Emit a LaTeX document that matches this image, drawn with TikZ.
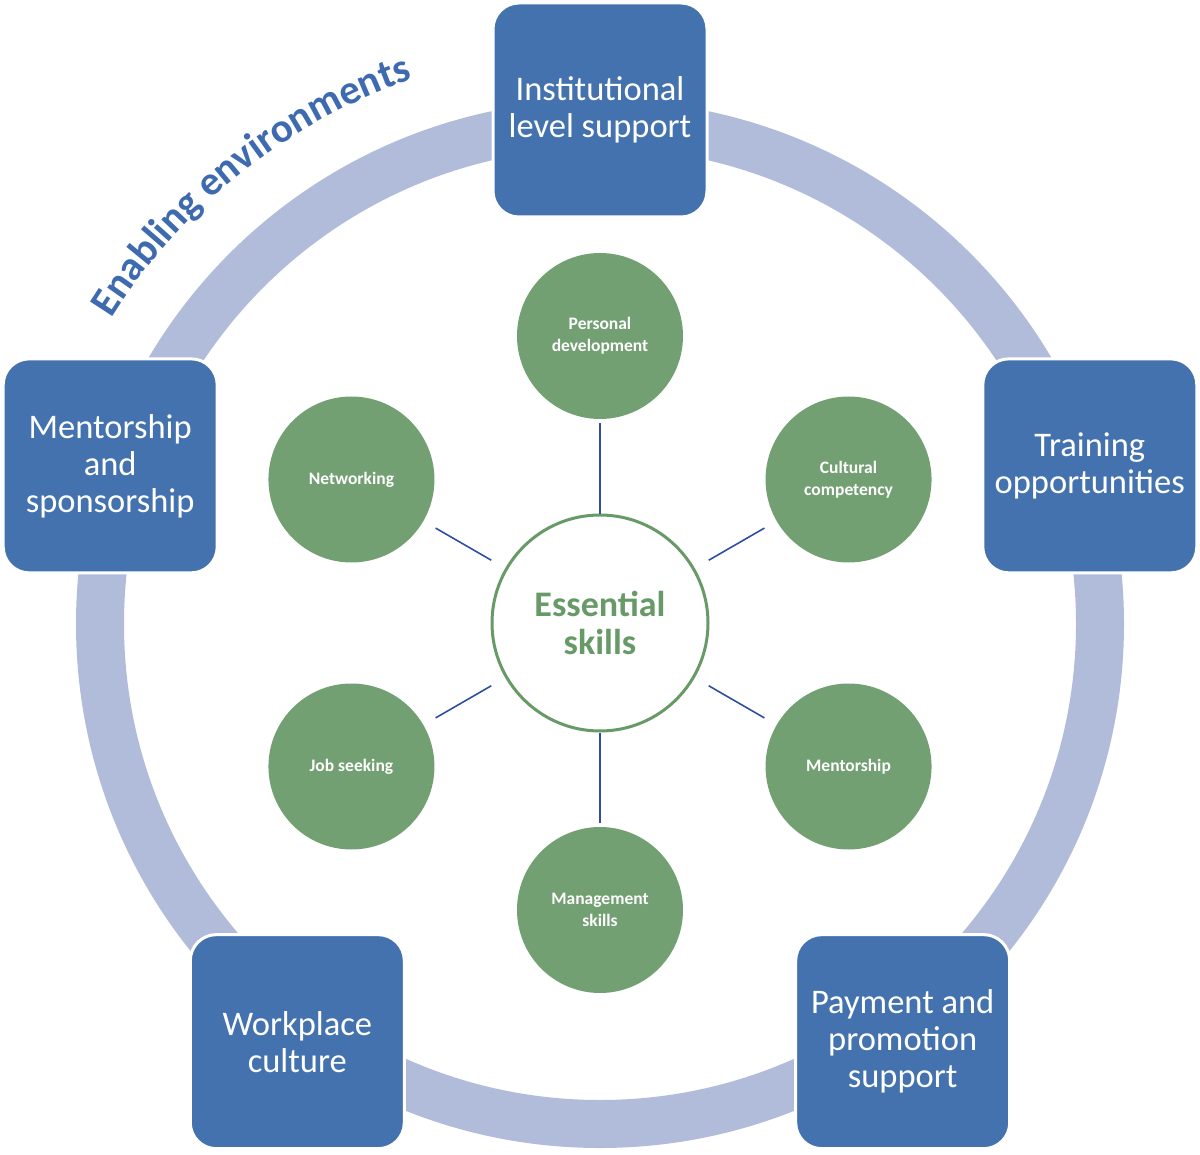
\documentclass[tikz,border=0pt]{standalone}
\usepackage{fontspec}
\setmainfont{Carlito}
\usetikzlibrary{decorations.text,calc}
\definecolor{boxblue}{RGB}{68,114,174}
\definecolor{ringblue}{RGB}{176,188,218}
\definecolor{skillgreen}{RGB}{115,160,115}
\definecolor{essgreen}{RGB}{104,154,104}
\definecolor{linkblue}{RGB}{46,78,158}
\definecolor{envblue}{RGB}{62,106,176}
\begin{document}
\begin{tikzpicture}[x=1pt,y=1pt,
  bigbox/.style={draw=white, line width=3pt, fill=boxblue, rounded corners=26pt,
    minimum width=214pt, minimum height=214pt, text=white, align=center,
    font=\fontsize{34.5}{37}\selectfont, inner sep=0pt},
  skill/.style={circle, fill=skillgreen, minimum size=166pt, inner sep=0pt,
    text=white, align=center, font=\fontsize{17.5}{22}\selectfont\bfseries},
  link/.style={draw=linkblue, line width=1.6pt}]
\useasboundingbox (0,0) rectangle (1200,-1155);
\coordinate (ringc) at (600,-624);
\coordinate (pentc) at (600,-625);
\draw[ringblue, line width=48pt] (ringc) circle[radius=500];

% curved title
\path[decorate, decoration={text along path, text align=left,
   text={|\fontsize{41}{41}\selectfont\bfseries\color{envblue}|Enabling environments}}]
   ($(ringc)+(148:576)$) arc[start angle=148, end angle=95, radius=576];

% outer boxes
\node[bigbox] (inst) at ([shift={(90:515)}]pentc) {Institutional\\level support};
\node[bigbox] (train) at ([shift={(18:515)}]pentc) {Training\\opportunities};
\node[bigbox] (pay) at ([shift={(-54:515)}]pentc) {Payment and\\promotion\\support};
\node[bigbox] (work) at ([shift={(-126:515)}]pentc) {Workplace\\culture};
\node[bigbox] (ment) at ([shift={(162:515)}]pentc) {Mentorship\\and\\sponsorship};

% centre
\node[circle, draw=essgreen, line width=3pt, fill=white, minimum size=216pt, inner sep=0pt,
  text=essgreen, align=center, font=\fontsize{36}{38}\selectfont\bfseries]
  (ess) at (600,-623) {Essential\\skills};

% skills
\node[skill] (pd) at ([shift={(90:287)}]ess.center) {Personal\\development};
\node[skill] (cc) at ([shift={(30:287)}]ess.center) {Cultural\\competency};
\node[skill] (mt) at ([shift={(-30:287)}]ess.center) {Mentorship};
\node[skill] (ms) at ([shift={(-90:287)}]ess.center) {Management\\skills};
\node[skill] (js) at ([shift={(210:287)}]ess.center) {Job seeking};
\node[skill] (nw) at ([shift={(150:287)}]ess.center) {Networking};

% connectors
\draw[link, shorten >=4pt] (ess) -- (pd);
\draw[link, shorten >=4pt] (ess) -- (ms);
\draw[link, shorten <=16pt, shorten >=14pt] (ess) -- (cc);
\draw[link, shorten <=16pt, shorten >=14pt] (ess) -- (mt);
\draw[link, shorten <=16pt, shorten >=14pt] (ess) -- (js);
\draw[link, shorten <=16pt, shorten >=14pt] (ess) -- (nw);
\end{tikzpicture}
\end{document}
